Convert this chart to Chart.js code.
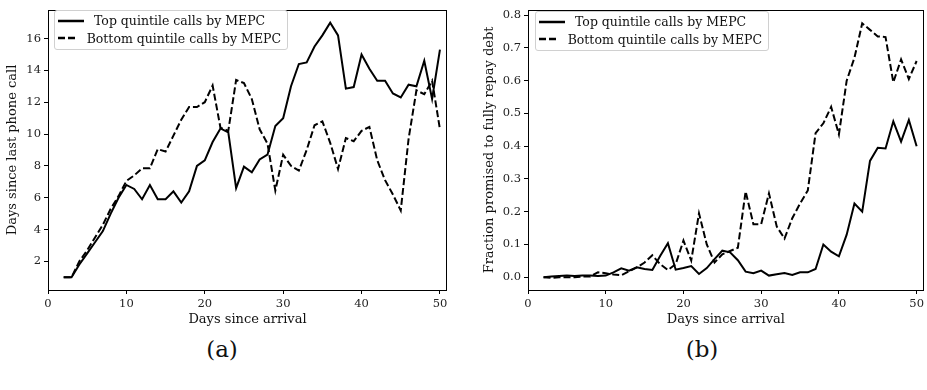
<!DOCTYPE html>
<html lang="en">
  <head>
    <meta charset="UTF-8" />
    <title>Calls by MEPC</title>
    <script src="https://cdn.jsdelivr.net/npm/chart.js"></script>
    <style>
      body {
        margin: 0;
        background: #fff;
        font-family: "DejaVu Serif", serif;
      }
      .wrap {
        position: relative;
        width: 927px;
        height: 390px;
      }
      canvas {
        position: absolute;
        top: 0;
      }
      .legend {
        position: absolute;
        box-sizing: border-box;
        border: 1px solid #d0d0d0;
        border-radius: 3px;
        background: rgba(255, 255, 255, 0.85);
        padding: 1px 6px 0 3px;
        font-size: 12.5px;
        color: #111;
      }
      .legend .row {
        display: flex;
        align-items: center;
        height: 17.6px;
        white-space: nowrap;
      }
      .legend svg {
        margin-right: 10px;
      }
      .panel {
        position: absolute;
        top: 336px;
        font-size: 23px;
        color: #111;
        transform: translateX(-50%);
      }
    </style>
  </head>
  <body>
    <div class="wrap">
      <canvas id="chartA" width="463" height="335" style="left: 0"></canvas>
      <canvas id="chartB" width="464" height="335" style="left: 463px"></canvas>
      <div class="legend" id="legendA" style="left: 54px; top: 10px; width: 234px; height: 40px"></div>
      <div class="legend" id="legendB" style="left: 535px; top: 11px; width: 234px; height: 40px"></div>
      <div class="panel" style="left: 222px">(a)</div>
      <div class="panel" style="left: 702px">(b)</div>
    </div>
    <script>
      const topLabel = "Top quintile calls by MEPC";
      const bottomLabel = "Bottom quintile calls by MEPC";

      const days = [2, 3, 4, 5, 6, 7, 8, 9, 10, 11, 12, 13, 14, 15, 16, 17, 18, 19, 20, 21, 22, 23, 24, 25, 26,
        27, 28, 29, 30, 31, 32, 33, 34, 35, 36, 37, 38, 39, 40, 41, 42, 43, 44, 45, 46, 47, 48, 49, 50];

      // (a) days since last phone call
      const lastCallTop = [1.0, 1.0, 1.8, 2.5, 3.2, 3.9, 5.0, 6.0, 6.8, 6.55, 5.9, 6.8, 5.9, 5.9, 6.4, 5.7,
        6.4, 8.0, 8.35, 9.5, 10.35, 10.1, 6.6, 7.95, 7.6, 8.4, 8.7, 10.5, 11.0, 13.0, 14.4, 14.5, 15.5,
        16.2, 17.0, 16.2, 12.85, 12.95, 15.0, 14.1, 13.35, 13.35, 12.55, 12.3, 13.1, 13.0, 14.6, 12.2, 15.3];
      const lastCallBottom = [1.0, 1.0, 2.0, 2.7, 3.5, 4.3, 5.3, 6.1, 7.05, 7.4, 7.85, 7.85, 9.05, 8.9, 9.9,
        10.9, 11.7, 11.7, 12.0, 13.05, 10.4, 10.2, 13.4, 13.2, 12.2, 10.3, 9.4, 6.45, 8.7, 8.0, 7.7, 9.0,
        10.55, 10.8, 9.45, 7.8, 9.75, 9.55, 10.2, 10.45, 8.35, 7.1, 6.2, 5.2, 9.7, 12.75, 12.5, 13.35, 10.3];

      // (b) fraction promised to fully repay debt
      const repayTop = [0.0, 0.002, 0.004, 0.005, 0.004, 0.005, 0.005, 0.004, 0.005, 0.015, 0.027, 0.02,
        0.03, 0.025, 0.022, 0.065, 0.104, 0.023, 0.028, 0.034, 0.01, 0.028, 0.055, 0.081, 0.076, 0.052,
        0.017, 0.012, 0.02, 0.005, 0.009, 0.013, 0.007, 0.015, 0.015, 0.025, 0.1, 0.078, 0.064, 0.13,
        0.225, 0.2, 0.355, 0.395, 0.393, 0.476, 0.414, 0.48, 0.4];
      const repayBottom = [0.0, -0.002, 0.0, 0.0, 0.0, 0.002, 0.002, 0.015, 0.012, 0.008, 0.006, 0.018,
        0.03, 0.045, 0.067, 0.04, 0.022, 0.04, 0.112, 0.051, 0.195, 0.1, 0.045, 0.07, 0.08, 0.09, 0.262,
        0.162, 0.162, 0.256, 0.155, 0.118, 0.18, 0.225, 0.265, 0.44, 0.47, 0.52, 0.436, 0.6, 0.67, 0.775,
        0.755, 0.735, 0.733, 0.595, 0.665, 0.605, 0.66];

      const xTicks = [0, 10, 20, 30, 40, 50];
      const yTicksA = [2, 4, 6, 8, 10, 12, 14, 16];
      const yTicksB = [0.0, 0.1, 0.2, 0.3, 0.4, 0.5, 0.6, 0.7, 0.8];

      const serif = "'DejaVu Serif', serif";
      const tickFont = { family: serif, size: 11.5 };
      const titleFont = { family: serif, size: 13 };

      const points = function (ys) {
        return days.map(function (d, i) {
          return { x: d, y: ys[i] };
        });
      };

      // box around the plot area
      const frame = {
        id: "frame",
        afterDraw: function (chart) {
          const a = chart.chartArea;
          const c = chart.ctx;
          c.save();
          c.strokeStyle = "#000";
          c.lineWidth = 1;
          c.strokeRect(Math.round(a.left) + 0.5, Math.round(a.top) + 0.5,
            Math.round(a.right - a.left) - 1, Math.round(a.bottom - a.top));
          c.restore();
        },
      };

      const makeChart = function (id, top, bottom, opts) {
        return new Chart(document.getElementById(id), {
          type: "line",
          data: {
            datasets: [
              {
                label: topLabel,
                data: points(top),
                borderColor: "#000",
                borderWidth: 2,
                pointRadius: 0,
                tension: 0,
              },
              {
                label: bottomLabel,
                data: points(bottom),
                borderColor: "#000",
                borderWidth: 2,
                borderDash: [7, 3],
                pointRadius: 0,
                tension: 0,
              },
            ],
          },
          options: {
            responsive: false,
            animation: false,
            layout: { padding: opts.padding },
            plugins: { legend: { display: false }, tooltip: { enabled: false } },
            scales: {
              x: {
                type: "linear",
                min: 0,
                max: 50.9,
                afterBuildTicks: function (s) {
                  s.ticks = xTicks.map(function (v) { return { value: v }; });
                },
                afterFit: function (s) { s.height = 45; },
                border: { display: false },
                grid: { drawOnChartArea: false, drawTicks: true, tickLength: 4, color: "#000" },
                ticks: { font: tickFont, color: "#222", padding: 3, maxRotation: 0 },
                title: { display: true, text: "Days since arrival", font: titleFont, color: "#111", padding: { top: 0, bottom: 8 } },
              },
              y: {
                min: opts.ymin,
                max: opts.ymax,
                afterBuildTicks: function (s) {
                  s.ticks = opts.yTicks.map(function (v) { return { value: v }; });
                },
                afterFit: function (s) { s.width = opts.yWidth; },
                border: { display: false },
                grid: { drawOnChartArea: false, drawTicks: true, tickLength: 4, color: "#000" },
                ticks: { font: tickFont, color: "#222", padding: 3, callback: opts.fmt },
                title: { display: true, text: opts.yTitle, font: titleFont, color: "#111", padding: { top: opts.titlePad, bottom: 0 } },
              },
            },
          },
          plugins: [frame],
        });
      };

      makeChart("chartA", lastCallTop, lastCallBottom, {
        padding: { top: 5, right: 16, left: 0, bottom: 0 },
        ymin: 0.2,
        ymax: 17.8,
        yTicks: yTicksA,
        yWidth: 48,
        titlePad: 5,
        yTitle: "Days since last phone call",
        fmt: function (v) { return String(v); },
      });

      makeChart("chartB", repayTop, repayBottom, {
        padding: { top: 4, right: 3, left: 0, bottom: 0 },
        ymin: -0.039,
        ymax: 0.816,
        yTicks: yTicksB,
        yWidth: 65,
        titlePad: 19,
        yTitle: "Fraction promised to fully repay debt",
        fmt: function (v) { return Number(v).toFixed(1); },
      });

      // legends inside the plot area
      const legendRow = function (label, dash) {
        return '<div class="row"><svg width="26" height="6"><line x1="0" y1="3" x2="26" y2="3" stroke="#000" stroke-width="2.5"' +
          (dash ? ' stroke-dasharray="7 3"' : "") + "/></svg><span>" + label + "</span></div>";
      };
      ["legendA", "legendB"].forEach(function (id) {
        document.getElementById(id).innerHTML = legendRow(topLabel, false) + legendRow(bottomLabel, true);
      });
    </script>
  </body>
</html>
